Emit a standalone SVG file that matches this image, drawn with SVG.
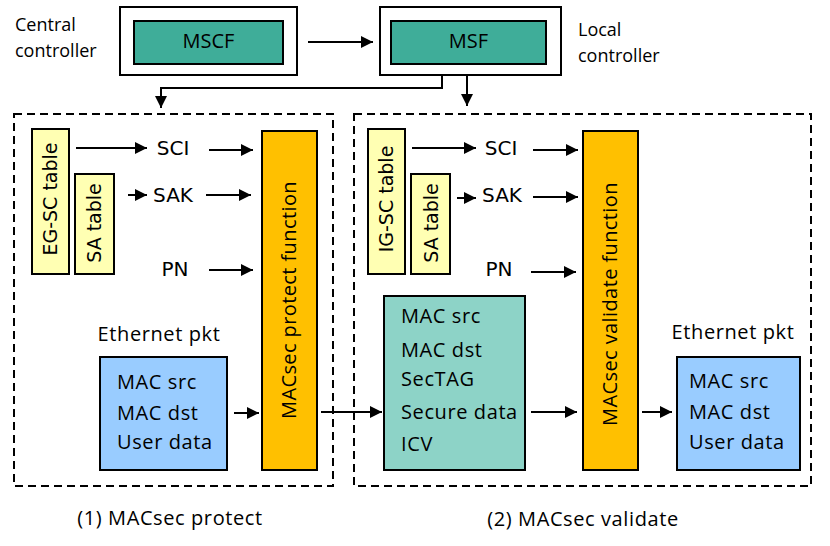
<svg xmlns="http://www.w3.org/2000/svg" width="830" height="546" viewBox="0 0 830 546">
<style>
.bx{stroke:#000;stroke-width:2}
.ctl{fill:#3fad99}
.yel{fill:#ffffb3}
.org{fill:#ffc000}
.blu{fill:#99ccff}
.tea{fill:#8dd3c7}
.dash{fill:none;stroke:#000;stroke-width:2;stroke-dasharray:8 5}
.t{font-family:"Open Sans","Liberation Sans",sans-serif;font-size:20px;fill:#000;letter-spacing:0.6px}
.m{font-family:"Open Sans","Liberation Sans",sans-serif;font-size:20px;fill:#000}
.s{font-family:"Open Sans","Liberation Sans",sans-serif;font-size:18px;fill:#000}
.d{font-family:"DejaVu Sans",sans-serif;font-size:20px;fill:#000}
.dt{font-family:"DejaVu Sans",sans-serif;font-size:19px;fill:#000}
.c{stroke:#000;stroke-width:2;fill:none}
</style>
<defs>
<marker id="ah" markerUnits="userSpaceOnUse" markerWidth="12" markerHeight="12" viewBox="0 0 12 12" refX="12" refY="6" orient="auto">
<path d="M0,0 L12,6 L0,12 z" fill="#000"/>
</marker>
</defs>

<g id="central-controller">
<rect x="120" y="7" width="177" height="68" fill="#fff" class="bx"/>
<text class="s" x="15" y="31">Central</text>
<text class="s" x="15" y="57">controller</text>
</g>
<g id="mscf">
<rect x="134" y="21" width="149" height="43" class="bx ctl"/>
<text class="m" x="208.5" y="48" text-anchor="middle">MSCF</text>
</g>
<g id="local-controller">
<rect x="380" y="7" width="181" height="68" fill="#fff" class="bx"/>
<text class="s" x="578" y="36">Local</text>
<text class="s" x="578" y="62">controller</text>
</g>
<g id="msf">
<rect x="391" y="21" width="155" height="43" class="bx ctl"/>
<text class="m" x="468.5" y="48" text-anchor="middle">MSF</text>
</g>

<g id="protect-area">
<rect x="14" y="114" width="319" height="372" class="dash"/>
<text class="t" x="170" y="525" text-anchor="middle">(1) MACsec protect</text>
</g>
<g id="validate-area">
<rect x="354" y="114" width="457" height="372" class="dash"/>
<text class="t" x="583" y="526" text-anchor="middle">(2) MACsec validate</text>
</g>

<g id="eg-sc-table">
<rect x="32" y="129" width="37" height="145" class="bx yel"/>
<text class="dt" transform="translate(57,199) rotate(-90)" text-anchor="middle">EG-SC table</text>
</g>
<g id="sa-table-1">
<rect x="75" y="174" width="39" height="100" class="bx yel"/>
<text class="dt" transform="translate(101,223) rotate(-90)" text-anchor="middle">SA table</text>
</g>
<g id="sci-1"><text class="d" x="173" y="155" text-anchor="middle">SCI</text></g>
<g id="sak-1"><text class="d" x="173" y="202" text-anchor="middle">SAK</text></g>
<g id="pn-1"><text class="d" x="175" y="276" text-anchor="middle">PN</text></g>
<g id="protect-function">
<rect x="262" y="131" width="55" height="339" class="bx org"/>
<text class="m" transform="translate(296,300) rotate(-90)" text-anchor="middle" style="letter-spacing:0.4px">MACsec protect function</text>
</g>
<g id="eth-pkt-1">
<text class="t" x="159" y="341" text-anchor="middle">Ethernet pkt</text>
<rect x="100" y="357" width="127" height="113" class="bx blu"/>
<text class="t" x="117" y="389">MAC src</text>
<text class="t" x="117" y="420">MAC dst</text>
<text class="t" x="117" y="449">User data</text>
</g>

<g id="ig-sc-table">
<rect x="368" y="129" width="37" height="145" class="bx yel"/>
<text class="dt" transform="translate(393,199) rotate(-90)" text-anchor="middle">IG-SC table</text>
</g>
<g id="sa-table-2">
<rect x="411" y="174" width="39" height="100" class="bx yel"/>
<text class="dt" transform="translate(438,223) rotate(-90)" text-anchor="middle">SA table</text>
</g>
<g id="sci-2"><text class="d" x="501" y="155" text-anchor="middle">SCI</text></g>
<g id="sak-2"><text class="d" x="502" y="202" text-anchor="middle">SAK</text></g>
<g id="pn-2"><text class="d" x="499" y="276" text-anchor="middle">PN</text></g>
<g id="secured-frame">
<rect x="384" y="296" width="141" height="174" class="bx tea"/>
<text class="t" x="401" y="323">MAC src</text>
<text class="t" x="401" y="357">MAC dst</text>
<text class="t" x="401" y="386">SecTAG</text>
<text class="t" x="401" y="419">Secure data</text>
<text class="t" x="401" y="451">ICV</text>
</g>
<g id="validate-function">
<rect x="583" y="131" width="55" height="339" class="bx org"/>
<text class="m" transform="translate(617,304) rotate(-90)" text-anchor="middle" style="letter-spacing:0.4px">MACsec validate function</text>
</g>
<g id="eth-pkt-2">
<text class="t" x="733" y="339" text-anchor="middle">Ethernet pkt</text>
<rect x="677" y="357" width="123" height="113" class="bx blu"/>
<text class="t" x="689" y="388">MAC src</text>
<text class="t" x="689" y="419">MAC dst</text>
<text class="t" x="689" y="449">User data</text>
</g>

<g id="connectors">
<line class="c" x1="308" y1="42" x2="373" y2="42" marker-end="url(#ah)"/>
<polyline class="c" points="442,75 442,88 161,88 161,108" marker-end="url(#ah)"/>
<line class="c" x1="467" y1="76" x2="467" y2="106" marker-end="url(#ah)"/>
<line class="c" x1="76" y1="148" x2="147" y2="148" marker-end="url(#ah)"/>
<line class="c" x1="209" y1="150" x2="253" y2="150" marker-end="url(#ah)"/>
<line class="c" x1="128" y1="195" x2="147" y2="195" marker-end="url(#ah)"/>
<line class="c" x1="206" y1="195" x2="251" y2="195" marker-end="url(#ah)"/>
<line class="c" x1="209" y1="270" x2="253" y2="270" marker-end="url(#ah)"/>
<line class="c" x1="234" y1="413" x2="259" y2="413" marker-end="url(#ah)"/>
<line class="c" x1="321" y1="412" x2="382" y2="412" marker-end="url(#ah)"/>
<line class="c" x1="412" y1="148" x2="476" y2="148" marker-end="url(#ah)"/>
<line class="c" x1="533" y1="150" x2="578" y2="150" marker-end="url(#ah)"/>
<line class="c" x1="457" y1="198" x2="476" y2="198" marker-end="url(#ah)"/>
<line class="c" x1="533" y1="197" x2="578" y2="197" marker-end="url(#ah)"/>
<line class="c" x1="531" y1="272" x2="576" y2="272" marker-end="url(#ah)"/>
<line class="c" x1="531" y1="412" x2="577" y2="412" marker-end="url(#ah)"/>
<line class="c" x1="642" y1="412" x2="672" y2="412" marker-end="url(#ah)"/>
</g>
</svg>
